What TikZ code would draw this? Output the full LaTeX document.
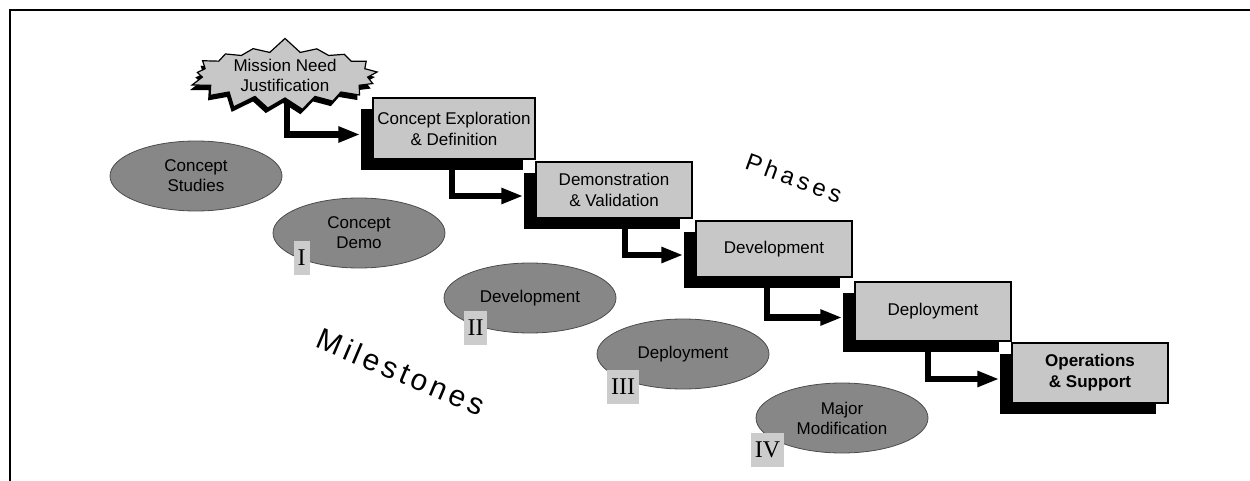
\documentclass[tikz,border=0pt]{standalone}
\usepackage{fontspec}
\setmainfont{Liberation Sans}
\newfontfamily\romanfont{Liberation Serif}
\usetikzlibrary{shapes.geometric,shapes.symbols,shadows,arrows.meta,backgrounds}
\begin{document}
\begin{tikzpicture}[x=1pt,y=-1pt,
  phase/.style={draw=black,line width=1.5pt,fill=black!22,minimum width=156pt,minimum height=56pt,
    inner sep=0pt,align=center,font=\fontsize{17}{21}\selectfont,
    general shadow={fill=black,shadow xshift=-12pt,shadow yshift=-11pt}},
  milestone/.style={ellipse,fill=black!47,draw=black!70,line width=0.8pt,minimum width=172pt,
    minimum height=70pt,inner sep=0pt,align=center,font=\fontsize{17}{20}\selectfont},
  numeral/.style={fill=black!20,minimum height=34pt,inner xsep=4pt,inner ysep=0pt,
    font=\romanfont\fontsize{24}{24}\selectfont},
  conn/.style={line width=6.5pt,-{Triangle[length=22pt,width=15pt]}},
  borderline/.style={line width=2pt}]
\useasboundingbox (0,0) rectangle (1250,481);
\draw[borderline] (1250,10) -- (10,10) -- (10,481);

% milestones
\node[milestone] (cs) at (196,176) {Concept\\Studies};
\node[milestone] (cd) at (359,233) {Concept\\Demo};
\node[milestone] (dev) at (530,298) {Development};
\node[milestone] (dep) at (683,354) {Deployment};
\node[milestone] (mm) at (842,418) {Major\\Modification};

\node[numeral] (n1) at (301.5,258) {I};
\node[numeral] (n2) at (475.5,327.5) {II};
\node[numeral] (n3) at (623,386.5) {III};
\node[numeral] (n4) at (767.5,449.5) {IV};

% phases
\node[starburst,starburst points=17,starburst point height=15pt,random starburst=7,draw,
  line width=1.2pt,fill=black!22,minimum width=196pt,minimum height=70pt,align=center,
  inner sep=0pt,font=\fontsize{17}{20}\selectfont,
  general shadow={fill=black,shadow xshift=-2pt,shadow yshift=-5pt}] (mnj) at (285,75) {Mission Need\\Justification};

\node[phase,minimum width=162pt,minimum height=61pt] (p1) at (454,128.5) {Concept Exploration\\\& Definition};
\node[phase] (p2) at (614,190) {Demonstration\\\& Validation};
\node[phase] (p3) at (774,249) {Development};
\node[phase,minimum height=59pt] (p4) at (933,311.5) {Deployment};
\node[phase,minimum height=60pt,font=\bfseries\fontsize{17}{21}\selectfont] (p5) at (1090,373) {Operations\\\& Support};

\begin{scope}[on background layer]
\draw[conn] ([xshift=2pt]mnj.center) |- ([xshift=-12pt,yshift=-6pt]p1.west);
\draw[conn] ([xshift=-2pt]p1.center) |- ([xshift=-12pt,yshift=-6pt]p2.west);
\draw[conn] ([xshift=11pt]p2.center) |- ([xshift=-12pt,yshift=-6pt]p3.west);
\draw[conn] ([xshift=-7pt]p3.center) |- ([xshift=-12pt,yshift=-6pt]p4.west);
\draw[conn] ([xshift=-5pt]p4.center) |- ([xshift=-12pt,yshift=-6pt]p5.west);
\end{scope}

\node[rotate=-20,font=\fontsize{24}{24}\selectfont\addfontfeature{LetterSpace=17}] (phases) at (794,178) {Phases};
\node[rotate=-23,font=\fontsize{30}{30}\selectfont\addfontfeature{LetterSpace=13}] (ms) at (401,372) {Milestones};
\end{tikzpicture}
\end{document}
